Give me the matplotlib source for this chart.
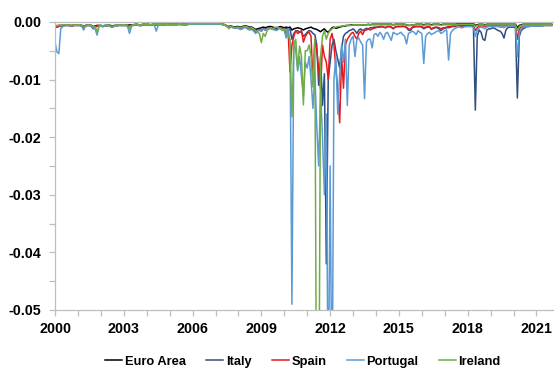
import numpy as np
import matplotlib
matplotlib.use("Agg")
import matplotlib.pyplot as plt
from matplotlib.ticker import MultipleLocator, FixedLocator, FuncFormatter

# monthly values, Jan 2000 .. Sep 2021, in units of 1e-4
SCALE = 1e-4

euro_area = [
    -8, -7, -6, -6, -6, -5, -5, -5, -6, -6, -5, -5,
    -5, -5, -6, -7, -6, -5, -5, -6, -8, -7, -6, -6,
    -6, -7, -6, -6, -5, -6, -7, -6, -6, -5, -5, -5,
    -5, -5, -6, -5, -5, -5, -4, -4, -5, -5, -4, -4,
    -4, -4, -5, -4, -4, -4, -4, -4, -4, -4, -4, -4,
    -4, -4, -4, -4, -4, -3, -4, -4, -4, -4, -3, -3,
    -3, -3, -3, -3, -3, -3, -3, -3, -3, -3, -3, -3,
    -3, -3, -3, -4, -4, -5, -7, -8, -7, -8, -9, -8,
    -8, -9, -8, -7, -7, -8, -9, -9, -11, -13, -12, -11,
    -10, -9, -10, -9, -8, -8, -9, -10, -11, -9, -8, -9,
    -10, -9, -10, -9, -14, -12, -11, -10, -11, -12, -14, -12,
    -11, -10, -9, -11, -12, -13, -15, -17, -14, -12, -16, -18,
    -14, -10, -9, -11, -10, -9, -8, -7, -7, -6, -6, -5,
    -5, -5, -5, -6, -5, -5, -5, -5, -4, -5, -4, -4,
    -4, -4, -4, -4, -4, -4, -4, -4, -4, -5, -4, -4,
    -4, -4, -4, -4, -5, -6, -6, -5, -5, -4, -4, -4,
    -4, -5, -4, -4, -4, -5, -4, -4, -4, -4, -5, -4,
    -4, -4, -4, -4, -4, -4, -4, -3, -3, -3, -3, -3,
    -3, -3, -3, -3, -6, -5, -4, -4, -4, -5, -4, -4,
    -4, -4, -4, -4, -4, -4, -4, -4, -4, -4, -4, -4,
    -4, -4, -10, -6, -5, -4, -4, -4, -4, -4, -4, -4,
    -4, -4, -4, -4, -4, -4, -4, -4, -4,
]

italy = [
    -10, -9, -8, -7, -7, -6, -6, -6, -7, -7, -6, -6,
    -6, -6, -7, -9, -7, -6, -6, -8, -12, -9, -7, -7,
    -7, -8, -7, -7, -6, -8, -9, -7, -7, -6, -6, -6,
    -6, -6, -8, -6, -6, -5, -5, -5, -6, -6, -5, -5,
    -5, -5, -6, -5, -5, -5, -5, -5, -5, -5, -5, -5,
    -5, -5, -5, -5, -5, -4, -5, -5, -5, -5, -4, -4,
    -4, -4, -4, -4, -4, -4, -4, -4, -4, -4, -4, -4,
    -4, -4, -4, -4, -5, -6, -8, -9, -8, -9, -10, -10,
    -10, -11, -10, -9, -9, -10, -12, -12, -14, -18, -16, -14,
    -16, -12, -13, -11, -10, -10, -11, -12, -13, -11, -10, -11,
    -12, -11, -14, -12, -30, -20, -16, -15, -18, -17, -25, -22,
    -18, -15, -16, -20, -22, -40, -110, -60, -145, -90, -420, -100,
    -70, -40, -30, -50, -65, -80, -45, -25, -20, -18, -15, -14,
    -12, -15, -20, -14, -12, -15, -13, -11, -12, -10, -10, -9,
    -9, -9, -8, -8, -9, -10, -8, -8, -9, -12, -9, -8,
    -8, -8, -8, -8, -10, -14, -15, -10, -9, -8, -8, -8,
    -9, -12, -10, -9, -9, -13, -11, -10, -10, -12, -15, -12,
    -11, -10, -10, -9, -8, -8, -7, -6, -6, -7, -6, -6,
    -6, -6, -7, -8, -153, -25, -14, -18, -30, -32, -14, -12,
    -12, -10, -11, -13, -15, -16, -20, -28, -14, -10, -9, -9,
    -9, -10, -132, -25, -15, -12, -10, -8, -8, -7, -7, -7,
    -7, -7, -7, -7, -6, -6, -6, -6, -6,
]

spain = [
    -9, -8, -7, -7, -6, -6, -6, -6, -7, -7, -6, -6,
    -6, -6, -7, -9, -7, -6, -6, -7, -10, -9, -7, -7,
    -7, -8, -7, -7, -6, -7, -9, -7, -7, -6, -6, -6,
    -6, -6, -8, -6, -6, -5, -5, -5, -6, -6, -5, -5,
    -5, -5, -6, -5, -5, -5, -5, -4, -5, -5, -4, -4,
    -4, -4, -4, -4, -4, -4, -4, -4, -4, -4, -3, -3,
    -3, -3, -3, -3, -2, -3, -3, -3, -3, -3, -3, -3,
    -3, -3, -3, -4, -4, -5, -7, -9, -8, -9, -11, -10,
    -10, -13, -11, -9, -9, -12, -13, -12, -15, -18, -14, -13,
    -15, -12, -14, -12, -11, -10, -12, -13, -14, -11, -10, -12,
    -12, -20, -15, -87, -40, -25, -15, -20, -18, -15, -35, -25,
    -20, -18, -25, -105, -30, -50, -80, -118, -40, -60, -70, -100,
    -30, -20, -40, -80, -120, -175, -60, -115, -40, -30, -25, -20,
    -18, -25, -30, -20, -16, -22, -15, -14, -12, -14, -12, -11,
    -10, -9, -9, -8, -9, -10, -8, -8, -9, -11, -9, -8,
    -8, -8, -7, -8, -9, -12, -13, -9, -8, -8, -8, -8,
    -8, -10, -9, -8, -8, -12, -10, -9, -9, -10, -12, -10,
    -10, -9, -8, -8, -7, -7, -6, -6, -7, -10, -7, -6,
    -5, -5, -5, -6, -15, -10, -7, -7, -7, -8, -7, -6,
    -6, -6, -6, -6, -6, -7, -7, -7, -6, -6, -6, -6,
    -6, -7, -30, -12, -9, -8, -7, -7, -7, -6, -6, -6,
    -6, -6, -6, -6, -6, -6, -6, -6, -6,
]

portugal = [
    -35, -52, -55, -12, -8, -7, -6, -6, -7, -6, -6, -6,
    -6, -6, -8, -14, -7, -6, -6, -8, -10, -12, -23, -8,
    -7, -8, -7, -7, -6, -8, -9, -7, -7, -6, -6, -6,
    -6, -6, -8, -20, -8, -6, -5, -5, -6, -7, -5, -5,
    -5, -5, -6, -5, -6, -16, -6, -5, -5, -5, -5, -5,
    -5, -5, -5, -5, -5, -4, -5, -5, -5, -5, -4, -4,
    -4, -4, -4, -4, -4, -4, -4, -4, -4, -4, -4, -4,
    -4, -4, -4, -4, -5, -6, -8, -10, -9, -10, -11, -10,
    -11, -13, -12, -10, -10, -13, -14, -13, -16, -20, -15, -14,
    -16, -12, -14, -12, -11, -12, -13, -14, -15, -12, -11, -13,
    -15, -28, -12, -35, -490, -33, -50, -85, -60, -95, -130, -70,
    -80, -60, -100, -150, -90, -180, -250, -120, -200, -300, -160, -700,
    -250, -700, -100, -60, -160, -90, -40, -70, -30, -145, -40, -30,
    -25, -60, -30, -28, -35, -40, -133, -35, -30, -30, -45, -22,
    -20, -25, -18, -22, -30, -20, -18, -25, -32, -18, -20, -22,
    -20, -18, -22, -25, -38, -20, -18, -16, -18, -22, -15, -18,
    -20, -72, -25, -20, -18, -22, -20, -18, -16, -15, -20, -18,
    -15, -14, -66, -20, -15, -12, -10, -9, -9, -10, -9, -8,
    -8, -8, -8, -9, -25, -14, -10, -9, -10, -12, -9, -8,
    -8, -8, -8, -8, -8, -9, -9, -10, -8, -8, -7, -7,
    -7, -8, -60, -20, -12, -9, -8, -8, -8, -7, -7, -7,
    -7, -7, -7, -7, -6, -6, -6, -6, -6,
]

ireland = [
    -7, -6, -6, -6, -5, -5, -5, -5, -6, -6, -5, -5,
    -5, -5, -6, -8, -6, -5, -5, -6, -9, -8, -18, -7,
    -6, -7, -6, -6, -5, -7, -8, -6, -6, -5, -5, -5,
    -5, -5, -7, -12, -6, -5, -4, -4, -5, -5, -4, -4,
    -4, -4, -5, -4, -4, -4, -4, -4, -4, -4, -4, -4,
    -4, -4, -4, -4, -4, -3, -4, -4, -4, -4, -3, -3,
    -3, -3, -3, -3, -3, -3, -3, -3, -3, -3, -3, -3,
    -3, -3, -3, -4, -4, -5, -7, -12, -8, -9, -10, -9,
    -9, -10, -9, -8, -8, -9, -11, -10, -12, -15, -18, -20,
    -36, -20, -25, -15, -12, -10, -12, -10, -9, -10, -12, -15,
    -12, -15, -25, -30, -165, -40, -30, -83, -42, -60, -144, -50,
    -50, -40, -60, -113, -30, -800, -800, -60, -25, -15, -30, -20,
    -15, -12, -10, -9, -8, -8, -7, -7, -6, -6, -6, -6,
    -5, -5, -5, -6, -5, -5, -5, -5, -5, -5, -5, -5,
    -5, -5, -5, -5, -5, -5, -5, -5, -5, -5, -5, -5,
    -5, -5, -5, -5, -5, -6, -6, -5, -5, -5, -5, -5,
    -5, -6, -5, -5, -5, -6, -5, -5, -5, -5, -6, -5,
    -5, -5, -5, -5, -5, -5, -5, -4, -4, -4, -4, -4,
    -4, -4, -4, -4, -8, -6, -5, -5, -5, -6, -5, -5,
    -5, -5, -5, -5, -5, -5, -5, -5, -5, -5, -5, -5,
    -5, -5, -15, -8, -6, -5, -5, -5, -5, -5, -5, -5,
    -5, -5, -5, -5, -5, -5, -5, -5, -5,
]

names = ["Euro Area", "Italy", "Spain", "Portugal", "Ireland"]
colors = ["#000000", "#2F4F7F", "#E8191E", "#5B9BD5", "#70AD47"]
year_ticks = [2000, 2003, 2006, 2009, 2012, 2015, 2018, 2021]

plt.rcParams['font.family'] = ['Liberation Sans', 'DejaVu Sans']
plt.rcParams['font.weight'] = 'bold'

fig = plt.figure(figsize=(5.58, 3.72), dpi=100)
ax = fig.add_axes([0.0986, 0.1667, 0.8924, 0.7743])

t = 2000 + np.arange(len(euro_area)) / 12.0
series = [euro_area, italy, spain, portugal, ireland]
for vals, name, c in zip(series, names, colors):
    ax.plot(t, np.array(vals) * SCALE, color=c, lw=1.1, label=name)

ax.set_xlim(2000, 2021.72)
ax.set_ylim(-0.05, 0.0)
ax.xaxis.set_major_locator(FixedLocator(year_ticks))
ax.xaxis.set_minor_locator(MultipleLocator(1))
ax.yaxis.set_major_locator(MultipleLocator(0.01))
ax.yaxis.set_minor_locator(MultipleLocator(0.005))
ax.yaxis.set_major_formatter(FuncFormatter(lambda v, p: "%.2f" % v if abs(v) > 1e-9 else "0.00"))
ax.xaxis.set_major_formatter(FuncFormatter(lambda v, p: "%d" % v))

for s in ["left", "bottom", "top"]:
    ax.spines[s].set_color("#BFBFBF")
    ax.spines[s].set_linewidth(0.9)
ax.spines["right"].set_visible(False)

ax.tick_params(axis="both", which="both", direction="out", color="#BFBFBF", length=4, width=0.9)
ax.tick_params(axis="y", which="major", labelsize=10.3, pad=6)
ax.tick_params(axis="x", which="major", labelsize=10.3, pad=5)

fig.legend(loc="center", bbox_to_anchor=(0.543, 0.027), ncol=5, frameon=False,
           fontsize=9.3, handlelength=1.3, handletextpad=0.2, columnspacing=1.6)

fig.savefig("out.png", dpi=100)
